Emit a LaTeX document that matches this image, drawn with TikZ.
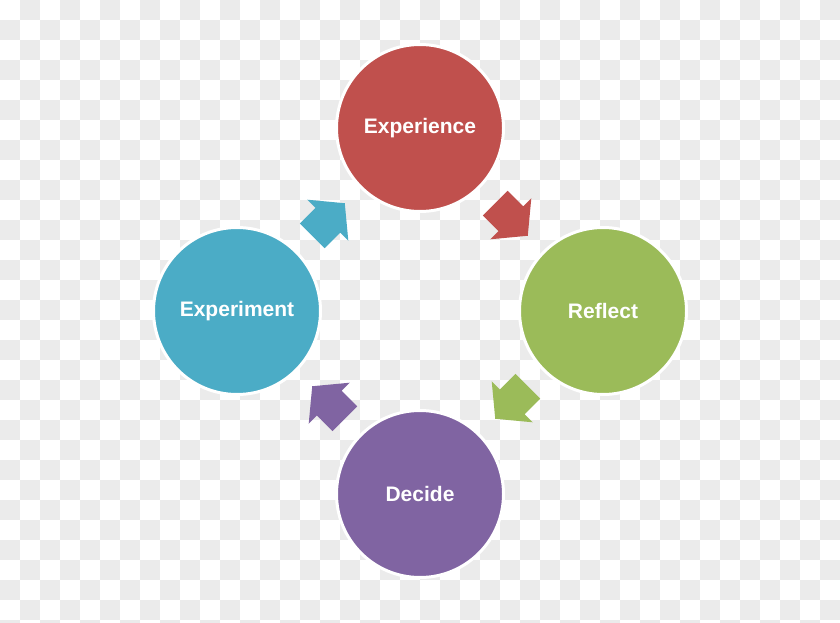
\documentclass[tikz,border=0pt]{standalone}
\usepackage{fontspec}
\setmainfont{Liberation Sans}
\usetikzlibrary{calc}
\definecolor{expred}{HTML}{C0504D}
\definecolor{refgreen}{HTML}{9BBB59}
\definecolor{decpurple}{HTML}{8064A2}
\definecolor{expblue}{HTML}{4BACC6}
\definecolor{checkgray}{HTML}{EBEBEB}
\tikzset{stage/.style={circle,minimum size=167pt,inner sep=0pt,draw=white,line width=3pt,text=white,font=\bfseries\fontsize{21}{25}\selectfont},
  turn/.pic={\fill (-23,-17.5) -- (-1,-17.5) -- (-1,-29) -- (23,0) -- (-1,29) -- (-1,17.5) -- (-23,17.5) -- cycle;}}

\begin{document}
\begin{tikzpicture}[x=1pt,y=-1pt]
\useasboundingbox (0,0) rectangle (840,623);
\clip (0,0) rectangle (840,623);
\fill[white] (0,0) rectangle (840,623);
\foreach \x in {0,40,...,840}
  \foreach \y in {0,40,...,640}{
    \fill[checkgray] (\x+20,\y) rectangle +(20,20);
    \fill[checkgray] (\x,\y+20) rectangle +(20,20);}
\node[stage,fill=expred] (exp) at (420,128) {Experience};
\node[stage,fill=refgreen] (ref) at (603,311) {Reflect};
\node[stage,fill=decpurple] (dec) at (420,494) {Decide};
\node[stage,fill=expblue] (exm) at (237,311) {Experiment};
\pic[fill=expred,rotate=-45] at ($(exp)!.5!(ref)$) {turn};
\pic[fill=refgreen,rotate=-135] at ($(ref)!.5!(dec)$) {turn};
\pic[fill=decpurple,rotate=135] at ($(dec)!.5!(exm)$) {turn};
\pic[fill=expblue,rotate=45] at ($(exm)!.5!(exp)$) {turn};
\end{tikzpicture}
\end{document}
